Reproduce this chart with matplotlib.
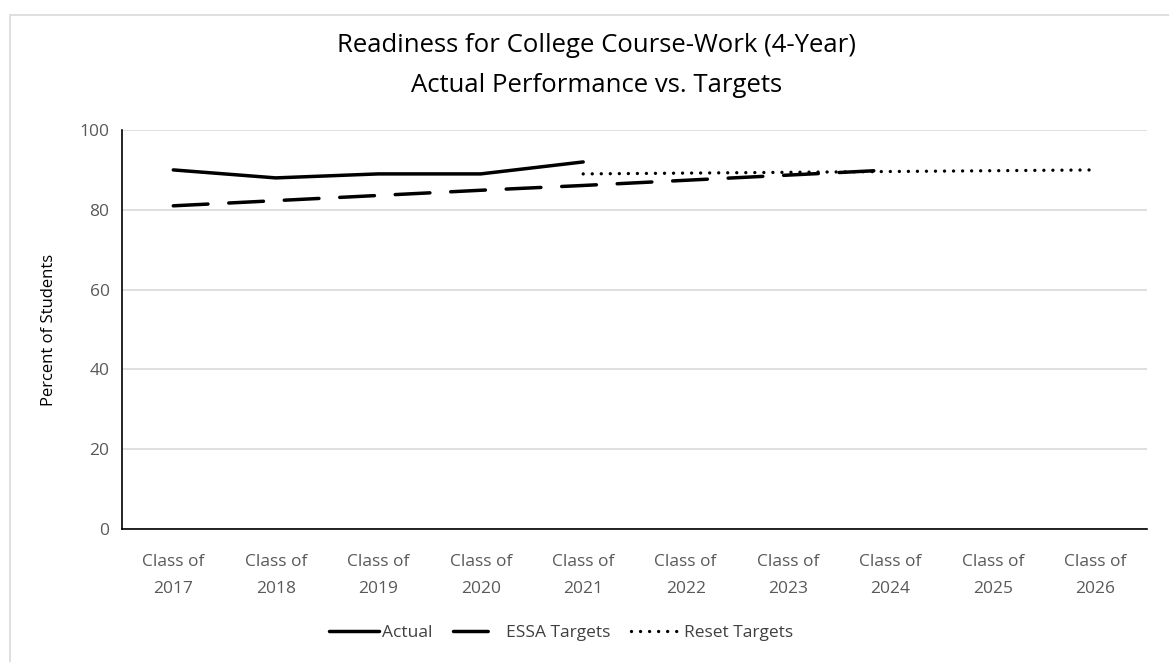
import numpy as np
import matplotlib
matplotlib.use("Agg")
import matplotlib.pyplot as plt
from matplotlib.patches import Rectangle

plt.rcParams['font.family'] = ['Open Sans', 'DejaVu Sans']

classes = ['Class of\n2017', 'Class of\n2018', 'Class of\n2019', 'Class of\n2020', 'Class of\n2021',
           'Class of\n2022', 'Class of\n2023', 'Class of\n2024', 'Class of\n2025', 'Class of\n2026']
actual = [90, 88, 89, 89, 92]
essa = [81, 82.3, 83.6, 84.9, 86.1, 87.4, 88.7, 90]
reset = [89, 89.2, 89.4, 89.6, 89.8, 90]

x = np.arange(len(classes))

fig = plt.figure(figsize=(11.69, 6.62), dpi=100)
ax = fig.add_axes([0.1044, 0.2009, 0.8766, 0.6027])

# chart border
fig.patches.append(Rectangle((10 / 1169, -0.05), 1.1, 1 - 15 / 662 + 0.05, transform=fig.transFigure,
                             fill=False, edgecolor='#d9d9d9', linewidth=1.2))

ax.plot(x[:len(actual)], actual, color='black', lw=2.5, solid_capstyle='round',
        solid_joinstyle='round', label='Actual', zorder=3)
l2, = ax.plot(x[:len(essa)], essa, color='black', lw=2.5, dash_capstyle='round',
              label='ESSA Targets', zorder=3)
l2.set_dashes([10, 6])
l3, = ax.plot(x[4:4 + len(reset)], reset, color='black', lw=2.4, dash_capstyle='round',
              label='Reset Targets', zorder=3)
l3.set_dashes([0.01, 2.7])

ax.set_xlim(-0.5, len(classes) - 0.5)
ax.set_ylim(0, 100)
ax.set_yticks(range(0, 101, 20))
ax.set_xticks(x)
ax.set_xticklabels(classes, linespacing=1.95)
ax.tick_params(axis='both', length=0, labelsize=12.5, labelcolor='#595959')
ax.tick_params(axis='x', pad=18)
ax.tick_params(axis='y', pad=9)
ax.grid(axis='y', color='#d9d9d9', lw=1.2)
ax.set_axisbelow(True)
for s in ['top', 'right']:
    ax.spines[s].set_visible(False)
ax.spines['left'].set_color('black')
ax.spines['bottom'].set_color('black')
ax.spines['left'].set_linewidth(1.2)
ax.spines['bottom'].set_linewidth(1.2)

ax.set_ylabel('Percent of Students', fontsize=12, labelpad=16)

fig.text(0.51, 0.932, 'Readiness for College Course-Work (4-Year)', ha='center', va='center', fontsize=18.5)
fig.text(0.51, 0.871, 'Actual Performance vs. Targets', ha='center', va='center', fontsize=18.5)

fig.legend(loc='center', bbox_to_anchor=(0.48, 0.044), ncol=3, frameon=False, fontsize=12.5,
           handlelength=2.9, handletextpad=0.15, columnspacing=1.2, labelcolor='#404040')

fig.savefig('out.png', dpi=100)
